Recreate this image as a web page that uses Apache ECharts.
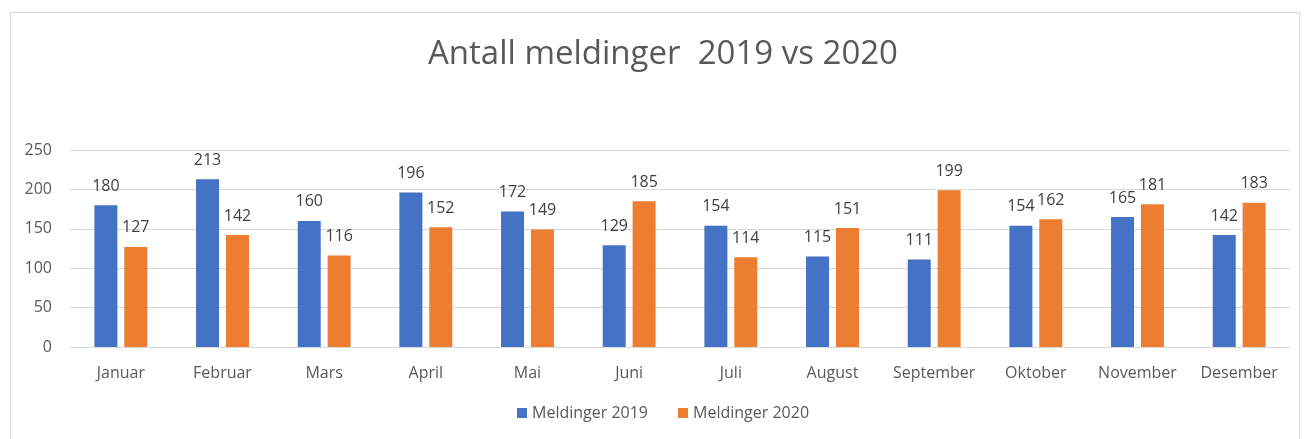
<!DOCTYPE html>
<html><head><meta charset="utf-8">
<script src="https://cdn.jsdelivr.net/npm/echarts@6/dist/echarts.min.js"></script>
<style>html,body{margin:0;padding:0;background:#fff}#c{width:1304px;height:439px}</style>
</head><body><div id="c"></div>
<script>
const categories = ['Januar','Februar','Mars','April','Mai','Juni','Juli','August','September','Oktober','November','Desember'];
const meld2019 = [180,213,160,196,172,129,154,115,111,154,165,142];
const meld2020 = [127,142,116,152,149,185,114,151,199,162,181,183];
const yTicks = [0,50,100,150,200,250];
const seriesNames = ['Meldinger 2019','Meldinger 2020'];

const chart = echarts.init(document.getElementById('c'), null, {renderer:'canvas'});
const font = "'Open Sans', sans-serif";
const lbl = {show:true, position:'top', distance:11, color:'#404040', fontSize:16, fontFamily:font};
chart.setOption({
  animation:false,
  graphic:[{type:'rect', shape:{x:10.5,y:12.5,width:1289,height:430}, style:{fill:'none', stroke:'#d9d9d9', lineWidth:1}, silent:true}],
  title:{text:'Antall meldinger  2019 vs 2020', left:423, top:33, textStyle:{fontSize:33, fontWeight:'normal', color:'#595959', fontFamily:font}},
  legend:{bottom:13, left:512, itemWidth:10, itemHeight:10, itemGap:30, icon:'rect', textStyle:{fontSize:16, color:'#595959', fontFamily:font}, data:seriesNames},
  grid:{left:70, right:14, top:150, bottom:92, containLabel:false},
  xAxis:{type:'category', data:categories, axisLine:{lineStyle:{color:'#d9d9d9'}}, axisTick:{show:false},
    axisLabel:{color:'#595959', fontSize:16, margin:18, interval:0, fontFamily:font}},
  yAxis:{type:'value', min:yTicks[0], max:yTicks[yTicks.length-1], interval:50, axisLine:{show:false}, axisTick:{show:false},
    axisLabel:{color:'#595959', fontSize:16, margin:18, fontFamily:font}, splitLine:{lineStyle:{color:'#d9d9d9'}}},
  series:[
    {name:seriesNames[0], type:'bar', data:meld2019, barWidth:23, barGap:'30%', itemStyle:{color:'#4472c4'}, label:lbl},
    {name:seriesNames[1], type:'bar', data:meld2020, barWidth:23, barGap:'30%', itemStyle:{color:'#ed7d31'}, label:lbl}
  ]
});
</script></body></html>
